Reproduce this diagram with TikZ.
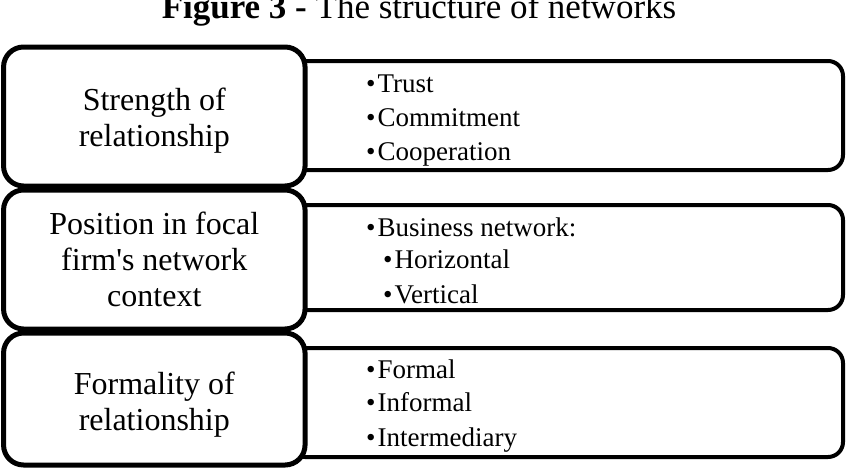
\documentclass[tikz,border=0pt]{standalone}
\usepackage{fontspec}
\setmainfont{Liberation Serif}
\usepackage{tikz}

\begin{document}
\begin{tikzpicture}[x=1pt,y=-1pt,
    catbox/.style={draw,line width=5pt,rounded corners=20pt,fill=white,
        minimum width=301.5pt,inner sep=0pt},
    listbox/.style={draw,line width=4pt,rounded corners=15pt,fill=white,
        minimum width=553pt,inner sep=0pt},
    cattext/.style={align=center,inner sep=0pt,
        font=\fontsize{32}{36}\selectfont},
    item/.style={anchor=base west,inner sep=0pt,
        font=\fontsize{27}{34}\selectfont}]

    \useasboundingbox (0,0) rectangle (848,469);

    % title
    \node[anchor=base,font=\fontsize{35}{40}\selectfont] (title) at (419,18)
        {\textbf{Figure 3 -} The structure of networks};

    % list boxes (behind)
    \node[listbox,minimum height=109pt] (tiesbox) at (566.5,115.5) {};
    \node[listbox,minimum height=105pt] (posbox) at (566.5,257.5) {};
    \node[listbox,minimum height=109pt] (formbox) at (566.5,402.5) {};

    % category boxes
    \node[catbox,minimum height=139pt] (strength) at (154.3,116.5) {};
    \node[catbox,minimum height=139pt] (position) at (154.3,259.5) {};
    \node[catbox,minimum height=132pt] (formality) at (154.3,399) {};

    \node[cattext,yshift=-4.5pt] (strength-t) at (strength)
        {Strength of\\relationship};
    \node[cattext] (position-t) at (position)
        {Position in focal\\firm\textquotesingle s network\\context};
    \node[cattext,yshift=-6pt] (formality-t) at (formality)
        {Formality of\\relationship};

    % items
    \foreach \txt [count=\i] in {Trust,Commitment,Cooperation}
        \node[item] (tie\i) at (366,58+34*\i) {\textbullet\hspace{2pt}\txt};

    \node[item] (business) at (366,236) {\textbullet\hspace{2pt}Business network:};
    \node[item] (horizontal) at (383,268) {\textbullet\hspace{2pt}Horizontal};
    \node[item] (vertical) at (383,303) {\textbullet\hspace{2pt}Vertical};

    \foreach \txt/\yy [count=\i] in {Formal/378,Informal/411,Intermediary/446}
        \node[item] (form\i) at (366,\yy) {\textbullet\hspace{2pt}\txt};
\end{tikzpicture}
\end{document}
